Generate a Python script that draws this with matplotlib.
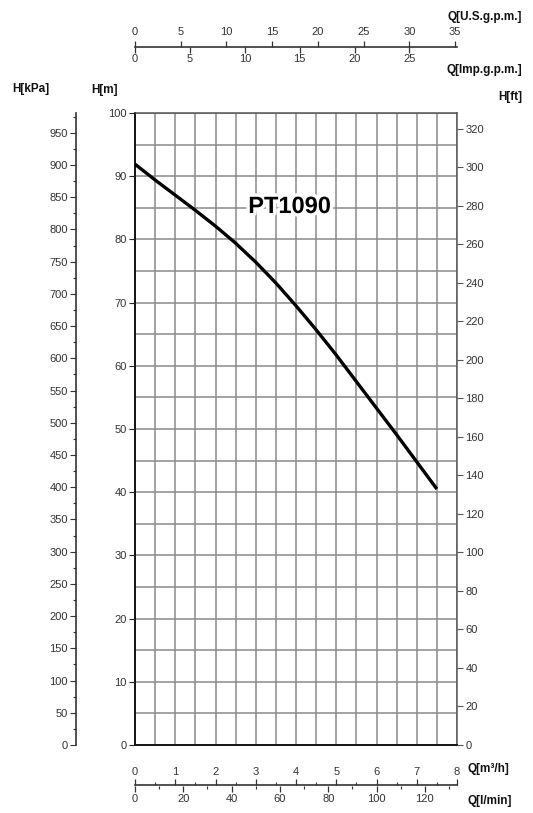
import matplotlib
matplotlib.use("Agg")
import matplotlib.pyplot as plt
import matplotlib.patheffects as pe
import numpy as np
from matplotlib.ticker import MultipleLocator, FixedLocator

plt.rcParams['font.family'] = ['Liberation Sans', 'DejaVu Sans']

# ---- data ----
flow_m3h = [0, 0.5, 1, 1.5, 2, 2.5, 3, 3.5, 4, 4.5, 5, 5.5, 6, 6.5, 7, 7.5]
head_m = [91.9, 89.4, 87.0, 84.6, 82.1, 79.4, 76.4, 73.1, 69.5, 65.7, 61.7, 57.5, 53.3, 49.1, 44.8, 40.5]
model_name = "PT1090"

head_m_ticks = list(range(0, 101, 10))
head_kpa_ticks = list(range(0, 951, 50))
head_ft_ticks = list(range(0, 321, 20))
m3h_ticks = list(range(0, 9))
lpm_ticks = list(range(0, 121, 20))
usgpm_ticks = list(range(0, 36, 5))
impgpm_ticks = list(range(0, 26, 5))

# unit conversions
M_TO_KPA = 9.80665
M_TO_FT = 3.28084
M3H_TO_LPM = 1000 / 60
M3H_TO_USGPM = 4.402868
M3H_TO_IMPGPM = 3.666154

W, H = 533, 813
fig = plt.figure(figsize=(W / 100, H / 100), dpi=100)

L, R = 135 / W, 457 / W
B, T = 1 - 745 / H, 1 - 113 / H
ax = fig.add_axes([L, B, R - L, T - B])

grid_c = '#8a8a8a'
lab_c = '#333333'
fs = 8

ax.set_xlim(0, 8)
ax.set_ylim(0, 100)
ax.xaxis.set_major_locator(MultipleLocator(0.5))
ax.yaxis.set_major_locator(MultipleLocator(5))
ax.grid(True, color=grid_c, lw=1.1)
ax.set_axisbelow(True)
for s in ['left', 'bottom']:
    ax.spines[s].set_color('#111111')
    ax.spines[s].set_linewidth(1.4)
for s in ['top', 'right']:
    ax.spines[s].set_color('#555555')
    ax.spines[s].set_linewidth(1.1)

ax.plot(flow_m3h, head_m, color='black', lw=2.4, solid_capstyle='butt', solid_joinstyle='round', zorder=5)
ax.text(3.84, 85.2, model_name, fontsize=17, fontweight='bold', ha='center', va='center', zorder=6,
        path_effects=[pe.withStroke(linewidth=5, foreground='white')])

# left H[m] labels
axm = ax.twinx()
axm.set_ylim(0, 100)
axm.yaxis.set_ticks_position('left')
for s in ['left', 'right', 'top', 'bottom']:
    axm.spines[s].set_visible(False)
axm.set_yticks(head_m_ticks)
axm.tick_params(axis='y', direction='out', length=4, width=0.8, colors='#222222', labelsize=fs,
                labelcolor=lab_c, pad=2)

# kPa axis
axk = ax.twinx()
axk.set_ylim(0, 100 * M_TO_KPA)
axk.spines['left'].set_position(('axes', (76 - 135) / 322))
axk.spines['left'].set_visible(True)
axk.spines['left'].set_color('#333333')
axk.spines['left'].set_linewidth(1.2)
for s in ['right', 'top', 'bottom']:
    axk.spines[s].set_visible(False)
axk.yaxis.set_ticks_position('left')
axk.set_yticks(head_kpa_ticks)
axk.yaxis.set_minor_locator(MultipleLocator(25))
axk.tick_params(axis='y', which='major', direction='out', length=4, width=0.8, colors='#333333',
                labelsize=fs, labelcolor=lab_c, pad=2)
axk.tick_params(axis='y', which='minor', direction='out', length=2.5, width=0.8, colors='#333333')

# ft axis
axf = ax.twinx()
axf.set_ylim(0, 100 * M_TO_FT)
for s in ['left', 'top', 'bottom', 'right']:
    axf.spines[s].set_visible(False)
axf.set_yticks(head_ft_ticks)
axf.tick_params(axis='y', direction='out', length=4, width=0.8, colors='#555555', labelsize=fs,
                labelcolor=lab_c, pad=2)

# main axes: no own ticks (after twinx, which re-enables them)
ax.tick_params(axis='x', which='both', bottom=False, top=False, labelbottom=False, labeltop=False)
ax.tick_params(axis='y', which='both', left=False, right=False, labelleft=False, labelright=False)

# bottom scale line
yb = 1 - 785.5 / H
axb = fig.add_axes([L, yb, R - L, 1e-5])
axb.set_xlim(0, 8)
axb.set_yticks([])
for s in ['left', 'right', 'bottom']:
    axb.spines[s].set_visible(False)
axb.spines['top'].set_color('#333333')
axb.spines['top'].set_linewidth(1.2)
axb.patch.set_alpha(0)
axb.xaxis.set_ticks_position('top')
axb.set_xticks(m3h_ticks)
axb.xaxis.set_minor_locator(MultipleLocator(0.5))
axb.tick_params(axis='x', which='major', direction='out', length=4, width=0.9, colors='#333333',
                labelsize=fs, labelcolor=lab_c, pad=2)
axb.tick_params(axis='x', which='minor', direction='out', length=2, width=0.8, colors='#333333')
secb = axb.secondary_xaxis('bottom', functions=(lambda x: x * M3H_TO_LPM, lambda x: x / M3H_TO_LPM))
secb.spines['bottom'].set_visible(False)
secb.set_xticks(lpm_ticks)
secb.xaxis.set_minor_locator(FixedLocator(list(range(10, 131, 20))))
secb.tick_params(axis='x', which='major', direction='out', length=4, width=0.9, colors='#333333',
                 labelsize=fs, labelcolor=lab_c, pad=2)
secb.tick_params(axis='x', which='minor', direction='out', length=2, width=0.8, colors='#333333')

# top scale line
yt = 1 - 46.7 / H
axt = fig.add_axes([L, yt, R - L, 1e-5])
axt.set_xlim(0, 8)
axt.set_yticks([])
for s in ['left', 'right', 'bottom']:
    axt.spines[s].set_visible(False)
axt.spines['top'].set_color('#333333')
axt.spines['top'].set_linewidth(1.2)
axt.patch.set_alpha(0)
axt.tick_params(axis='x', bottom=False, labelbottom=False, top=False, labeltop=False)
sect = axt.secondary_xaxis('top', functions=(lambda x: x * M3H_TO_USGPM, lambda x: x / M3H_TO_USGPM))
sect.spines['top'].set_visible(False)
sect.set_xticks(usgpm_ticks)
sect.tick_params(axis='x', direction='out', length=4, width=0.9, colors='#333333',
                 labelsize=fs, labelcolor=lab_c, pad=3)
sect2 = axt.secondary_xaxis('bottom', functions=(lambda x: x * M3H_TO_IMPGPM, lambda x: x / M3H_TO_IMPGPM))
sect2.spines['bottom'].set_visible(False)
sect2.set_xticks(impgpm_ticks)
sect2.tick_params(axis='x', direction='out', length=4, width=0.9, colors='#333333',
                  labelsize=fs, labelcolor=lab_c, pad=1)

# axis titles
tkw = dict(fontsize=8.5, fontweight='bold', color='#111111')
fig.text(522 / W, 1 - 17 / H, 'Q[U.S.g.p.m.]', ha='right', va='center', **tkw)
fig.text(522 / W, 1 - 70 / H, 'Q[Imp.g.p.m.]', ha='right', va='center', **tkw)
fig.text(12 / W, 1 - 89 / H, 'H[kPa]', ha='left', va='center', **tkw)
fig.text(91 / W, 1 - 90 / H, 'H[m]', ha='left', va='center', **tkw)
fig.text(522 / W, 1 - 97 / H, 'H[ft]', ha='right', va='center', **tkw)
fig.text(467 / W, 1 - 769 / H, 'Q[m³/h]', ha='left', va='center', **tkw)
fig.text(467 / W, 1 - 801 / H, 'Q[l/min]', ha='left', va='center', **tkw)

fig.savefig('out.png', dpi=100)
